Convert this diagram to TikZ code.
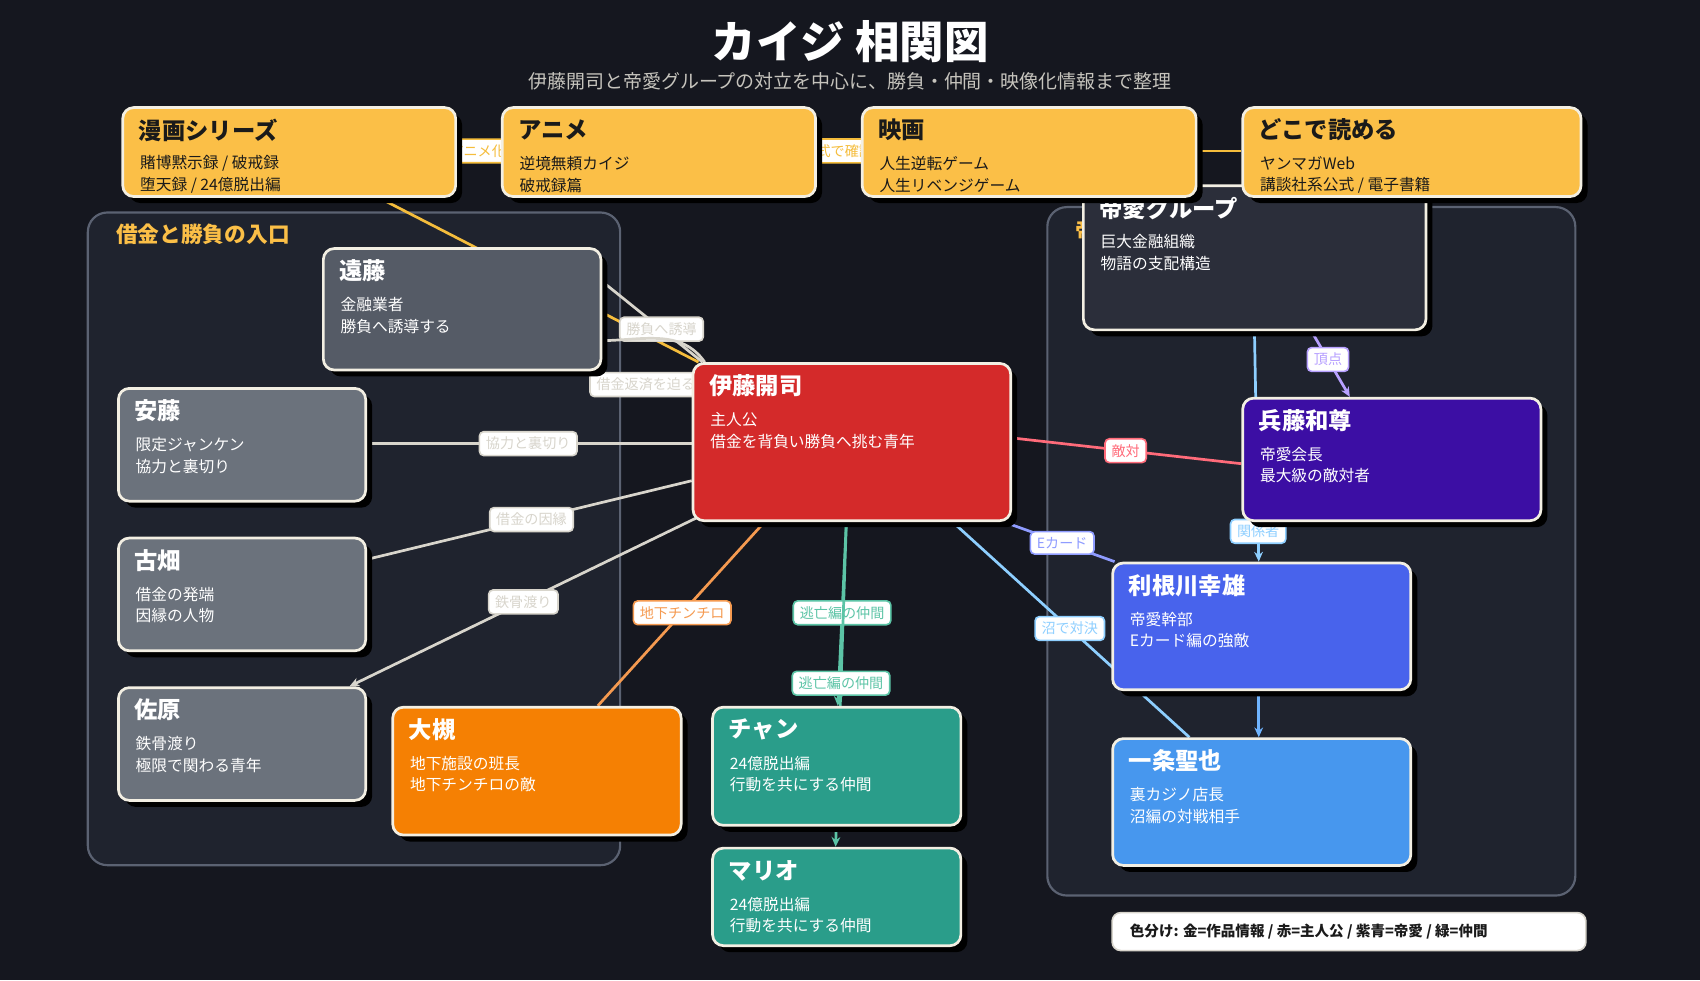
\documentclass[tikz,border=0pt]{standalone}
\usepackage{fontspec}
\setmainfont{Noto Sans CJK JP}
\usetikzlibrary{calc,shadows,arrows.meta}
\definecolor{cbg}{HTML}{15171F}
\definecolor{cgrp}{HTML}{1F232E}
\definecolor{cgrpb}{HTML}{5B6272}
\definecolor{cgold}{HTML}{FBBF47}
\definecolor{cdark}{HTML}{1A1A1A}
\definecolor{cbord}{HTML}{F3EFE3}
\definecolor{cendo}{HTML}{555B66}
\definecolor{cgray}{HTML}{6B727C}
\definecolor{cred}{HTML}{D42A2A}
\definecolor{corg}{HTML}{F58003}
\definecolor{cteal}{HTML}{2A9D8A}
\definecolor{cpur}{HTML}{3C0EA4}
\definecolor{cblue}{HTML}{4863EC}
\definecolor{cblue2}{HTML}{4797EE}
\definecolor{cteiai}{HTML}{2B2E3A}
\definecolor{eline}{HTML}{D8D5CC}
\definecolor{eyel}{HTML}{F5BD3C}
\definecolor{eorg}{HTML}{F59A50}
\definecolor{eteal}{HTML}{5CC4A6}
\definecolor{esky}{HTML}{8ECFFF}
\definecolor{eperi}{HTML}{8F9CFF}
\definecolor{epink}{HTML}{FF6B7A}
\definecolor{epur}{HTML}{B7A0FF}
\definecolor{eblue}{HTML}{6FB4FF}
\tikzset{
  box/.style={draw=cbord, line width=2.5pt, rounded corners=10pt,
    drop shadow={shadow xshift=6pt, shadow yshift=-6pt, fill=black, opacity=1}},
  gold/.style={box, fill=cgold}, gold-txt/.style={text=cdark},
  endo/.style={box, fill=cendo}, endo-txt/.style={text=white},
  gray/.style={box, fill=cgray}, gray-txt/.style={text=white},
  red/.style={box, fill=cred}, red-txt/.style={text=white},
  org/.style={box, fill=corg}, org-txt/.style={text=white},
  teal/.style={box, fill=cteal}, teal-txt/.style={text=white},
  pur/.style={box, fill=cpur}, pur-txt/.style={text=white},
  blu/.style={box, fill=cblue}, blu-txt/.style={text=white},
  blu2/.style={box, fill=cblue2}, blu2-txt/.style={text=white},
  teiai/.style={box, fill=cteiai}, teiai-txt/.style={text=white},
  ttl/.style={font=\fontsize{21.5}{25}\selectfont\bfseries, inner sep=0pt},
  sub/.style={font=\fontsize{14.5}{18}\selectfont, inner sep=0pt},
  grp/.style={draw=cgrpb, fill=cgrp, line width=2pt, rounded corners=18pt},
  elab/.style={fill=white, draw=#1, text=#1, rounded corners=4pt, line width=1.5pt,
    inner xsep=6pt, inner ysep=5pt, font=\fontsize{13}{15}\selectfont},
  elab/.default=eline,
  edge/.style={draw=#1, line width=2.5pt},
  arr/.style={-{Stealth[length=9pt,width=8pt]}},
}
\newcommand\pbox[9]{%
  \node[#6, minimum width={(#4-#2)*1pt}, minimum height={(#5-#3)*1pt}, anchor=north west] (#1) at (#2,#3) {};
  \node[ttl, #6-txt, anchor=west] (#1-a) at ($(#1.north west)+(16,22)$) {#7};
  \node[sub, #6-txt, anchor=west] (#1-b) at ($(#1.north west)+(17,53)$) {#8};
  \node[sub, #6-txt, anchor=west] (#1-c) at ($(#1.north west)+(17,73)$) {#9};
}
\begin{document}
\begin{tikzpicture}[x=1pt,y=-1pt]
\fill[cbg] (0,0) rectangle (1568,904);
\useasboundingbox (0,0) rectangle (1568,904);
\node[text=white, font=\fontsize{41}{45}\selectfont\bfseries] (title) at (784,38) {カイジ 相関図};
\node[text=eline!80!gray, font=\fontsize{17.5}{21}\selectfont] (subtitle) at (784,75) {伊藤開司と帝愛グループの対立を中心に、勝負・仲間・映像化情報まで整理};
% groups
\node[grp, minimum width=491pt, minimum height=602pt, anchor=north west] (g1) at (80,195) {};
\node[text=cgold, font=\fontsize{20}{23}\selectfont\bfseries, anchor=west, inner sep=0pt] (g1t) at (107,216) {借金と勝負の入口};
\node[grp, minimum width=487pt, minimum height=635pt, anchor=north west] (g2) at (965,190) {};
\node[text=cgold, font=\fontsize{20}{23}\selectfont\bfseries, anchor=west, inner sep=0pt] (g2t) at (992,212) {帝愛グループ};
% invisible placement nodes for routing
\begin{scope}[opacity=0]
\node[minimum width=307pt, minimum height=82pt, anchor=north west] (manga) at (112,98) {};
\node[minimum width=289pt, minimum height=82pt, anchor=north west] (anime) at (462,98) {};
\node[minimum width=308pt, minimum height=82pt, anchor=north west] (eiga) at (794,98) {};
\node[minimum width=312pt, minimum height=82pt, anchor=north west] (doko) at (1145,98) {};
\node[minimum width=316pt, minimum height=133pt, anchor=north west] (teiai) at (998,170) {};
\node[minimum width=256pt, minimum height=112pt, anchor=north west] (endo) at (297,228) {};
\node[minimum width=293pt, minimum height=145pt, anchor=north west] (ito) at (638,334) {};
\node[minimum width=228pt, minimum height=104pt, anchor=north west] (ando) at (108,357) {};
\node[minimum width=228pt, minimum height=104pt, anchor=north west] (furu) at (108,495) {};
\node[minimum width=228pt, minimum height=104pt, anchor=north west] (sahara) at (108,633) {};
\node[minimum width=266pt, minimum height=118pt, anchor=north west] (otsuki) at (361,651) {};
\node[minimum width=229pt, minimum height=109pt, anchor=north west] (chan) at (656,651) {};
\node[minimum width=229pt, minimum height=90pt, anchor=north west] (mario) at (656,781) {};
\node[minimum width=275pt, minimum height=113pt, anchor=north west] (hyodo) at (1145,366) {};
\node[minimum width=275pt, minimum height=117pt, anchor=north west] (tone) at (1025,518) {};
\node[minimum width=275pt, minimum height=117pt, anchor=north west] (ichi) at (1025,680) {};
\end{scope}
% edges
\draw[edge=eyel] (manga) -- (ito);
\draw[edge=eyel] (manga.east) -- node[elab=eyel]{アニメ化} (anime.west);
\draw[edge=eyel] (anime.east) -- node[elab=eyel]{公式で確認} (eiga.west);
\draw[edge=eyel] (eiga.east) -- (doko.west);
\draw[edge=eline] ([yshift=-30pt]endo.north east) -- node[elab, pos=0.6]{勝負へ誘導} ([xshift=10pt]ito.north west);
\draw[edge=eline] ([yshift=-30pt]endo.east) to[out=0,in=125] ([xshift=12pt]ito.north west);
\draw[edge=eline] ([yshift=-5pt]endo.south east) -- node[elab, pos=0.5]{借金返済を迫る} ([yshift=-30pt]ito.north west);
\draw[edge=eline] (ando.east) -- node[elab]{協力と裏切り} (ando.east -| ito.west);
\draw[edge=eline] ([xshift=6pt,yshift=-20pt]furu.north east) -- node[elab]{借金の因縁} ([yshift=36pt]ito.south west);
\draw[edge=eline, arr] ([xshift=5pt,yshift=2pt]ito.south west) -- node[elab]{鉄骨渡り} ([xshift=-14pt]sahara.north east);
\draw[edge=eorg] ([xshift=69pt]ito.south west) -- node[elab=eorg]{地下チンチロ} ([xshift=-76pt]otsuki.north east);
\draw[edge=eteal, arr] ([xshift=-4pt]ito.south) -- node[elab=eteal]{逃亡編の仲間} ([xshift=2pt]chan.north);
\draw[edge=eteal, arr] ([xshift=-4pt]ito.south) -- node[elab=eteal, pos=0.5]{逃亡編の仲間} (mario.north);
\draw[edge=esky] ([xshift=-55pt]ito.south east) -- node[elab=esky]{沼で対決} ([xshift=72pt]ichi.north west);
\draw[edge=eperi] ([yshift=-4pt]ito.south east) -- node[elab=eperi]{Eカード} ([xshift=3pt]tone.north west);
\draw[edge=epink] ([yshift=3pt]ito.east) -- node[elab=epink]{敵対} ([yshift=-5pt]hyodo.west);
\draw[edge=epur, arr] ([xshift=-106pt]teiai.south east) -- node[elab=epur, pos=0.45]{頂点} ([xshift=100pt]hyodo.north west);
\draw[edge=esky, arr] ([xshift=159pt]teiai.south west) -- node[elab=esky, pos=0.87]{関係者} ([xshift=136pt]tone.north west);
\draw[edge=eblue, arr] ([xshift=136pt]tone.south west) -- ([xshift=136pt]ichi.north west);
% boxes
\pbox{endoB}{297}{228}{553}{340}{endo}{遠藤}{金融業者}{勝負へ誘導する}
\pbox{itoB}{638}{334}{931}{479}{red}{伊藤開司}{主人公}{借金を背負い勝負へ挑む青年}
\pbox{andoB}{108}{357}{336}{461}{gray}{安藤}{限定ジャンケン}{協力と裏切り}
\pbox{furuB}{108}{495}{336}{599}{gray}{古畑}{借金の発端}{因縁の人物}
\pbox{saharaB}{108}{633}{336}{737}{gray}{佐原}{鉄骨渡り}{極限で関わる青年}
\pbox{otsukiB}{361}{651}{627}{769}{org}{大槻}{地下施設の班長}{地下チンチロの敵}
\pbox{chanB}{656}{651}{885}{760}{teal}{チャン}{24億脱出編}{行動を共にする仲間}
\pbox{marioB}{656}{781}{885}{871}{teal}{マリオ}{24億脱出編}{行動を共にする仲間}
\pbox{hyodoB}{1145}{366}{1420}{479}{pur}{兵藤和尊}{帝愛会長}{最大級の敵対者}
\pbox{toneB}{1025}{518}{1300}{635}{blu}{利根川幸雄}{帝愛幹部}{Eカード編の強敵}
\pbox{ichiB}{1025}{680}{1300}{797}{blu2}{一条聖也}{裏カジノ店長}{沼編の対戦相手}
\pbox{teiaiB}{998}{170}{1314}{303}{teiai}{帝愛グループ}{巨大金融組織}{物語の支配構造}
\pbox{mangaB}{112}{98}{419}{180}{gold}{漫画シリーズ}{賭博黙示録 / 破戒録}{堕天録 / 24億脱出編}
\pbox{animeB}{462}{98}{751}{180}{gold}{アニメ}{逆境無頼カイジ}{破戒録篇}
\pbox{eigaB}{794}{98}{1102}{180}{gold}{映画}{人生逆転ゲーム}{人生リベンジゲーム}
\pbox{dokoB}{1145}{98}{1457}{180}{gold}{どこで読める}{ヤンマガWeb}{講談社系公式 / 電子書籍}
% legend
\node[fill=white, draw=eline, line width=1.5pt, rounded corners=8pt, minimum width=437pt, minimum height=35pt, anchor=north west] (legend) at (1025,841) {};
\node[anchor=west, inner sep=0pt, text=cdark, font=\fontsize{13.4}{15}\selectfont\bfseries] (legendt) at ($(legend.west)+(17,0)$) {色分け: 金=作品情報 / 赤=主人公 / 紫青=帝愛 / 緑=仲間};
\end{tikzpicture}
\end{document}
